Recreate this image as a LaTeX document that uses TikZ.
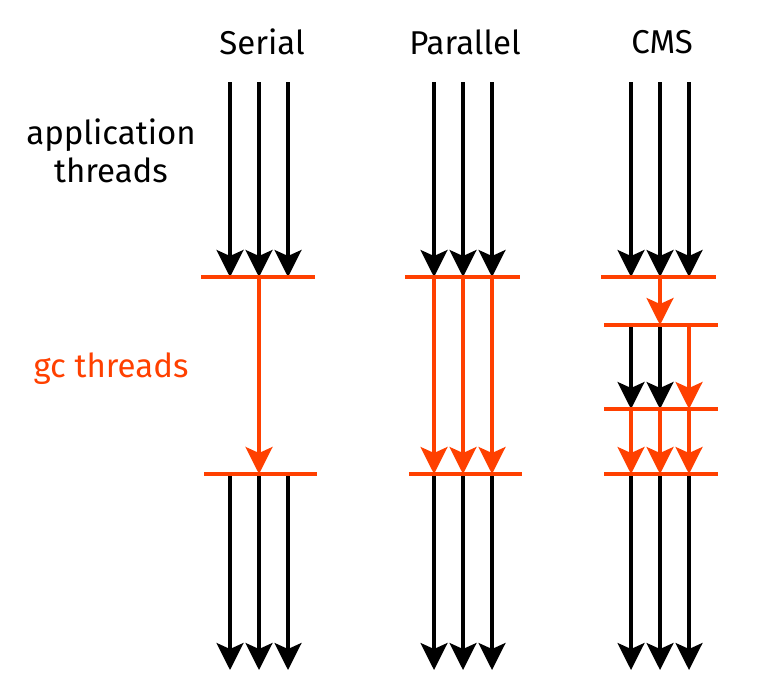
\documentclass[tikz,border=0pt]{standalone}
\usepackage{fontspec}
\setmainfont{Fira Sans}
\usetikzlibrary{arrows.meta}
\definecolor{gcred}{RGB}{255,64,0}
\tikzset{
  thread/.style={line width=3.2pt, -{Stealth[length=27pt,width=27pt,inset=6pt]}},
  appthread/.style={thread, black},
  gcthread/.style={thread, gcred},
  bar/.style={gcred, line width=3.2pt},
  lbl/.style={font=\fontsize{33}{38}\selectfont, inner sep=0pt, align=center},
}
\begin{document}
\begin{tikzpicture}[x=1pt,y=-1pt]
\useasboundingbox (0,0) rectangle (770,685);
% titles
\node[lbl] (tser) at (262,42) {Serial};
\node[lbl] (tpar) at (465,42) {Parallel};
\node[lbl] (tcms) at (662,42) {CMS};
\node[lbl] (app) at (111,151) {application\\threads};
\node[lbl, text=gcred] (gc) at (111,369) {gc threads};
% ---------- Serial ----------
\foreach \i/\x in {1/230,2/259,3/288}{
  \coordinate (sa\i) at (\x,82);
  \coordinate (sb\i) at (\x,277);
  \coordinate (sc\i) at (\x,474);
  \coordinate (sd\i) at (\x,670);
}
\coordinate (sbl) at (201,277); \coordinate (sbr) at (315,277);
\coordinate (scl) at (204,474); \coordinate (scr) at (317,474);
\foreach \i in {1,2,3}{ \draw[appthread] (sa\i) -- (sb\i); \draw[appthread] (sc\i) -- (sd\i); }
\draw[gcthread] (sb2) -- (sc2);
\draw[bar] (sbl) -- (sbr);
\draw[bar] (scl) -- (scr);
% ---------- Parallel ----------
\foreach \i/\x in {1/434,2/463,3/492}{
  \coordinate (pa\i) at (\x,82);
  \coordinate (pb\i) at (\x,277);
  \coordinate (pc\i) at (\x,474);
  \coordinate (pd\i) at (\x,670);
}
\coordinate (pbl) at (405,277); \coordinate (pbr) at (520,277);
\coordinate (pcl) at (409,474); \coordinate (pcr) at (522,474);
\foreach \i in {1,2,3}{
  \draw[appthread] (pa\i) -- (pb\i);
  \draw[gcthread] (pb\i) -- (pc\i);
  \draw[appthread] (pc\i) -- (pd\i);
}
\draw[bar] (pbl) -- (pbr);
\draw[bar] (pcl) -- (pcr);
% ---------- CMS ----------
\foreach \i/\x in {1/631,2/660,3/689}{
  \coordinate (ca\i) at (\x,82);
  \coordinate (cb\i) at (\x,277);
  \coordinate (cc\i) at (\x,325);
  \coordinate (cd\i) at (\x,409);
  \coordinate (ce\i) at (\x,474);
  \coordinate (cf\i) at (\x,670);
}
\coordinate (cbl) at (601,277); \coordinate (cbr) at (716,277);
\coordinate (ccl) at (604,325); \coordinate (ccr) at (718,325);
\coordinate (cdl) at (604,409); \coordinate (cdr) at (718,409);
\coordinate (cel) at (604,474); \coordinate (cer) at (718,474);
\foreach \i in {1,2,3}{
  \draw[appthread] (ca\i) -- (cb\i);
  \draw[gcthread] (cd\i) -- (ce\i);
  \draw[appthread] (ce\i) -- (cf\i);
}
\draw[gcthread] (cb2) -- (cc2);
\draw[appthread] (cc1) -- (cd1);
\draw[appthread] (cc2) -- (cd2);
\draw[gcthread] (cc3) -- (cd3);
\draw[bar] (cbl) -- (cbr);
\draw[bar] (ccl) -- (ccr);
\draw[bar] (cdl) -- (cdr);
\draw[bar] (cel) -- (cer);
\end{tikzpicture}
\end{document}
